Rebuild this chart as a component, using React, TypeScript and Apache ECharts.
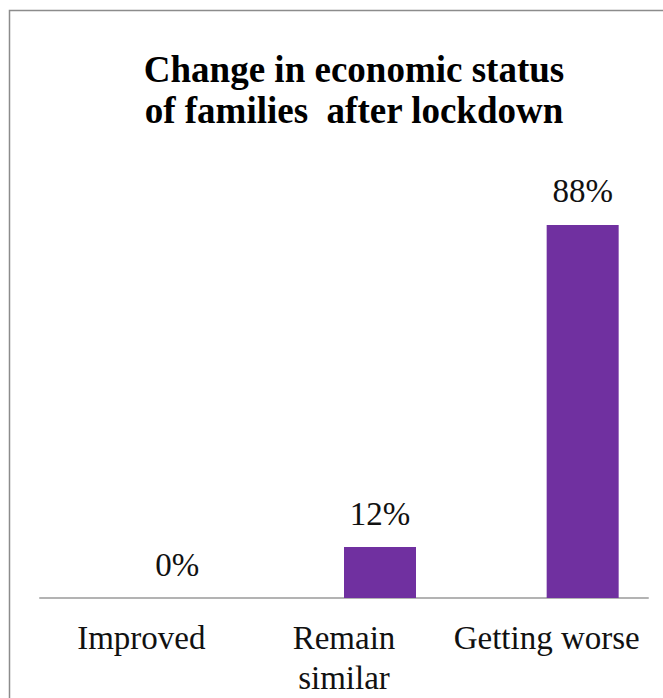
import React, { useEffect, useRef } from "react";
import * as echarts from "echarts";

const categories = ["Improved", "Remain\nsimilar", "Getting worse"];
const values = [0, 12, 88];
const titleLines = ["Change in economic status", "of families  after lockdown"];

const FONT = "Times New Roman";

export default function App() {
  const ref = useRef<HTMLDivElement>(null);
  useEffect(() => {
    const chart = echarts.init(ref.current!, null, { renderer: "svg" });
    chart.setOption({
      animation: false,
      textStyle: { fontFamily: FONT },
      graphic: [
        {
          type: "rect",
          shape: { x: 9.5, y: 10.5, width: 700, height: 720 },
          style: { fill: "none", stroke: "#8c8c8c", lineWidth: 1.5 },
          silent: true,
        },
        {
          type: "text",
          x: 354,
          y: 49,
          style: {
            text: titleLines.join("\n"),
            fontFamily: FONT,
            fontWeight: "bold",
            fontSize: 37,
            lineHeight: 41,
            align: "center",
            verticalAlign: "top",
            fill: "#000",
          },
        },
      ],
      grid: { left: 40, right: 15, top: 174, bottom: 98, containLabel: false },
      xAxis: {
        type: "category",
        data: categories,
        axisLine: { show: true, lineStyle: { color: "#b3b3b3", width: 2 } },
        axisTick: { show: false },
        axisLabel: {
          fontFamily: FONT,
          fontSize: 33,
          lineHeight: 40,
          color: "#111",
          margin: 20,
          interval: 0,
        },
      },
      yAxis: {
        type: "value",
        min: 0,
        max: 100,
        show: false,
        splitLine: { show: false },
      },
      series: [
        {
          type: "bar",
          name: "blank",
          data: categories.map(() => "-"),
          barWidth: 72,
          barGap: "0%",
        },
        {
          type: "bar",
          name: "share",
          data: values,
          barWidth: 72,
          barGap: "0%",
          itemStyle: { color: "#7030A0" },
          label: {
            show: true,
            position: "top",
            distance: 17,
            formatter: (p: any) => `${p.value}%`,
            fontFamily: FONT,
            fontSize: 33,
            color: "#111",
          },
        },
      ],
    });
    return () => chart.dispose();
  }, []);
  return (
    <div
      ref={ref}
      style={{ position: "absolute", left: 0, top: 0, width: 663, height: 698, background: "#fff" }}
    />
  );
}
